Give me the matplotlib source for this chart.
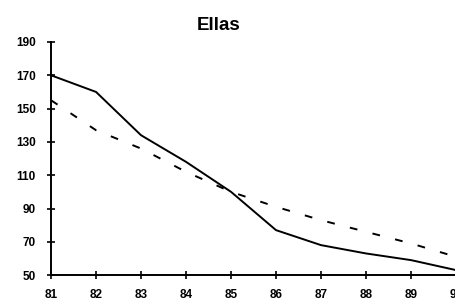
import matplotlib
matplotlib.use("Agg")
import matplotlib.pyplot as plt

years = [81, 82, 83, 84, 85, 86, 87, 88, 89, 90]
ellas_actual = [170, 160, 134, 118, 100, 77, 68, 63, 59, 53]
ellas_trend = [155, 137, 126, 112, 100, 91, 83, 76, 69, 61]
y_ticks = [50, 70, 90, 110, 130, 150, 170, 190]

plt.rcParams["font.family"] = ["Liberation Sans", "DejaVu Sans"]

fig = plt.figure(figsize=(4.56, 3.0), dpi=100)
ax = fig.add_axes([0.112, 0.083, 0.888, 0.777])

ax.plot(years, ellas_actual, color="black", linewidth=1.4, clip_on=False)
ax.plot(years, ellas_trend, color="black", linewidth=1.4,
        dashes=(4, 8), clip_on=False)

ax.set_xlim(81, 90)
ax.set_ylim(50, 190)
ax.set_xticks(years)
ax.set_yticks(y_ticks)

for side in ("top", "right"):
    ax.spines[side].set_visible(False)
for side in ("left", "bottom"):
    ax.spines[side].set_linewidth(1.4)

ax.tick_params(direction="inout", length=6, width=1.2, labelsize=8.5)
ax.tick_params(axis="x", pad=7)
ax.tick_params(axis="y", pad=8)
for label in ax.get_xticklabels() + ax.get_yticklabels():
    label.set_fontweight("bold")

fig.text(0.48, 0.915, "Ellas", ha="center", va="center",
         fontsize=13.5, fontweight="bold")

fig.savefig("out.png", dpi=100)
